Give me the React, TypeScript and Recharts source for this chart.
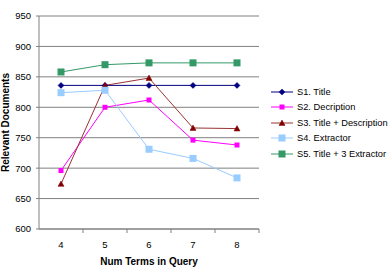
import React from "react";
import { LineChart, Line, XAxis, YAxis, CartesianGrid } from "recharts";

const terms = ["4", "5", "6", "7", "8"];
const s1Title = [836, 836, 836, 836, 836];
const s2Description = [696, 800, 812, 746, 738];
const s3TitleDesc = [674, 836, 848, 766, 765];
const s4Extractor = [824, 828, 731, 716, 684];
const s5Title3Extractor = [858, 870, 873, 873, 873];
const yTicks = [600, 650, 700, 750, 800, 850, 900, 950];

const seriesNames = [
  "S1. Title",
  "S2. Decription",
  "S3. Title + Description",
  "S4. Extractor",
  "S5. Title + 3 Extractor",
];

const data = terms.map((t, i) => ({
  term: t,
  s1: s1Title[i],
  s2: s2Description[i],
  s3: s3TitleDesc[i],
  s4: s4Extractor[i],
  s5: s5Title3Extractor[i],
}));

const FONT = "'Liberation Sans', Arial, sans-serif";

type Shape = "diamond" | "square" | "triangle";

const markerEl = (shape: Shape, cx: number, cy: number, size: number, fill: string, key?: string) => {
  const h = size / 2;
  if (shape === "diamond") {
    return <polygon key={key} points={`${cx},${cy - h} ${cx + h},${cy} ${cx},${cy + h} ${cx - h},${cy}`} fill={fill} stroke={fill} strokeWidth={0.5} />;
  }
  if (shape === "triangle") {
    return <polygon key={key} points={`${cx},${cy - h} ${cx + h},${cy + h * 0.8} ${cx - h},${cy + h * 0.8}`} fill={fill} stroke={fill} strokeWidth={0.5} />;
  }
  return <rect key={key} x={cx - h} y={cy - h} width={size} height={size} fill={fill} />;
};

const series = [
  { key: "s1", name: seriesNames[0], line: "#000080", fill: "#000080", shape: "diamond" as Shape, size: 6 },
  { key: "s2", name: seriesNames[1], line: "#FF00FF", fill: "#FF00FF", shape: "square" as Shape, size: 5 },
  { key: "s3", name: seriesNames[2], line: "#993333", fill: "#800000", shape: "triangle" as Shape, size: 6 },
  { key: "s4", name: seriesNames[3], line: "#99CCFF", fill: "#99CCFF", shape: "square" as Shape, size: 7 },
  { key: "s5", name: seriesNames[4], line: "#339966", fill: "#339966", shape: "square" as Shape, size: 7 },
];

const XTick = (props: any) => {
  const { x, y, payload } = props;
  return (
    <g>
      <text x={x} y={y + 11} textAnchor="middle" fontSize={9.5} fontFamily={FONT} fill="#000">
        {payload.value}
      </text>
      <line x1={x + 22} x2={x + 22} y1={y - 8} y2={y - 4} stroke="#808080" />
    </g>
  );
};

const LegendBox = () => (
  <div style={{ position: "absolute", left: 271, top: 84, width: 119, fontFamily: FONT, fontSize: 9.3, color: "#000" }}>
    {series.map((s) => (
      <div key={s.key} style={{ display: "flex", alignItems: "center", height: 15.5, whiteSpace: "nowrap" }}>
        <svg width={24} height={10} style={{ marginRight: 2 }}>
          <line x1={0} x2={22} y1={5} y2={5} stroke={s.line} strokeWidth={1} />
          {markerEl(s.shape, 11, 5, s.size, s.fill)}
        </svg>
        <span>{s.name}</span>
      </div>
    ))}
  </div>
);

export default function App() {
  return (
    <div style={{ position: "absolute", left: 0, top: 0, width: 390, height: 269, background: "#fff", overflow: "hidden" }}>
      <LineChart width={390} height={269} data={data} margin={{ top: 16, right: 131, bottom: 0, left: 0 }}>
        <CartesianGrid horizontal={true} vertical={false} stroke="#808080" strokeWidth={1} />
        <XAxis
          dataKey="term"
          padding={{ left: 22, right: 22 }}
          height={40}
          axisLine={{ stroke: "#808080" }}
          tickLine={false}
          tick={<XTick />}
          interval={0}
          label={{ value: "Num Terms in Query", position: "insideBottom", offset: 4, style: { fontFamily: FONT, fontSize: 10, fontWeight: "bold", fill: "#000" } }}
        />
        <YAxis
          domain={[600, 950]}
          ticks={yTicks}
          width={39}
          interval={0}
          axisLine={{ stroke: "#808080" }}
          tickLine={{ stroke: "#808080" }}
          tickSize={3}
          tickMargin={5}
          tick={{ fontFamily: FONT, fontSize: 9.5, fill: "#000" }}
          label={{ value: "Relevant Documents", angle: -90, position: "insideLeft", offset: 5, style: { textAnchor: "middle", fontFamily: FONT, fontSize: 10, fontWeight: "bold", fill: "#000" } }}
        />
        <YAxis yAxisId="r" orientation="right" width={0} tick={false} tickLine={false} axisLine={{ stroke: "#a0a0a0" }} domain={[600, 950]} />
        {series.map((s) => (
          <Line
            key={s.key}
            dataKey={s.key}
            name={s.name}
            stroke={s.line}
            strokeWidth={1}
            isAnimationActive={false}
            dot={(p: any) => markerEl(s.shape, p.cx, p.cy, s.size, s.fill, `${s.key}-${p.index}`)}
            activeDot={false}
          />
        ))}
      </LineChart>
      <LegendBox />
    </div>
  );
}
